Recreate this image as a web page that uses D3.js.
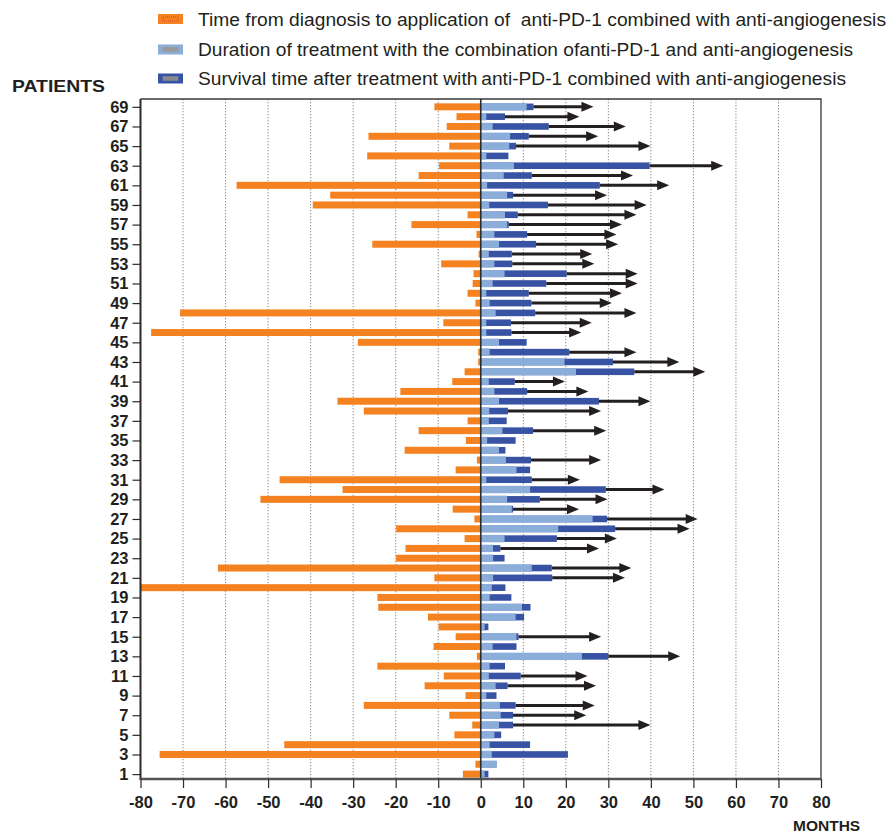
<!DOCTYPE html>
<html><head><meta charset="utf-8">
<script src="https://cdn.jsdelivr.net/npm/d3@7"></script>
<style>
html,body{margin:0;padding:0;background:#fff;}
svg{display:block;font-family:"Liberation Sans",Arial,Helvetica,sans-serif;}
</style></head>
<body>
<svg id="chart" width="889" height="835"></svg>
<script>
// Patient IDs (categories)
const patients = [1,2,3,4,5,6,7,8,9,10,11,12,13,14,15,16,17,18,19,20,21,22,23,24,25,26,27,28,29,30,31,32,33,34,35,36,37,38,39,40,41,42,43,44,45,46,47,48,49,50,51,52,53,54,55,56,57,58,59,60,61,62,63,64,65,66,67,68,69];
// Months from diagnosis to start of combined therapy (drawn to the left of 0)
const diagnosisToTreatment = [-4.2,-1.25,-75.5,-46.2,-6.2,-2.0,-7.4,-27.5,-3.6,-13.2,-8.7,-24.3,-0.9,-11.1,-5.9,-9.9,-12.4,-24.1,-24.3,-80,-10.9,-61.8,-19.9,-17.7,-3.8,-19.9,-1.5,-6.6,-51.8,-32.5,-47.3,-5.9,-0.9,-17.9,-3.5,-14.6,-3.1,-27.5,-33.7,-18.9,-6.7,-3.8,-0.6,-0.6,-28.9,-77.5,-8.8,-70.7,-1.25,-3.1,-1.9,-1.7,-9.3,-0.5,-25.5,-1.0,-16.3,-3.1,-39.5,-35.4,-57.4,-14.6,-9.8,-26.7,-7.4,-26.4,-8.0,-5.7,-10.9];
// Months of combined treatment
const treatmentDuration = [0.9,3.7,2.6,2.1,3.2,4.3,4.7,4.5,1.3,3.5,1.9,2.1,23.8,2.8,8.4,0.9,8.2,9.7,2.1,2.6,2.9,12.0,2.9,2.9,5.6,18.2,26.3,7.3,6.2,11.6,1.3,8.4,5.9,4.3,1.5,5.1,1.9,2.0,4.3,3.2,1.9,22.4,19.7,2.1,4.3,1.3,1.3,3.5,2.1,1.3,2.8,5.6,3.2,1.9,4.3,3.2,6.2,5.7,2.0,6.2,1.5,5.4,7.8,1.3,6.7,6.9,2.8,1.3,10.8];
// Months of survival after start of combined treatment
const survivalTime = [1.8,3.7,20.5,11.6,4.8,7.6,7.6,8.2,3.7,6.3,9.4,5.7,30.0,8.4,8.9,1.8,10.2,11.7,7.2,5.8,16.8,16.7,5.6,4.6,17.9,31.6,29.7,7.6,13.9,29.4,12.0,11.6,11.8,5.8,8.2,12.3,6.1,6.4,27.8,10.9,8.0,36.1,31.1,20.8,10.8,7.2,7.1,12.8,11.9,11.3,15.4,20.2,7.4,7.3,13.0,10.9,6.6,8.7,15.8,7.6,28.0,12.0,39.7,6.5,8.3,11.3,16.0,5.7,12.4];
// Arrow tip (ongoing follow-up), null = no arrow
const arrowEnd = [null,null,null,null,null,39.9,24.8,26.8,null,27.1,25.1,null,46.9,null,28.3,null,null,null,null,null,33.9,35.4,null,27.8,32.0,49.1,51.0,23.1,29.8,43.2,23.3,null,28.3,null,null,29.5,null,28.3,39.9,25.3,19.8,52.8,46.7,36.6,null,23.6,26.1,36.6,30.8,33.2,36.9,36.9,26.7,26.2,32.3,31.9,33.2,36.6,39.0,29.7,44.3,35.8,57.0,null,39.9,27.6,34.1,23.2,26.5];
// Axis ticks
const xTicks = [-80,-70,-60,-50,-40,-30,-20,-10,0,10,20,30,40,50,60,70,80];
const yTickLabels = [1,3,5,7,9,11,13,15,17,19,21,23,25,27,29,31,33,35,37,39,41,43,45,47,49,51,53,55,57,59,61,63,65,67,69];
// Legend
const legendLabels = [
  "Time from diagnosis to application of  anti-PD-1 combined with anti-angiogenesis",
  "Duration of treatment with the combination ofanti-PD-1 and anti-angiogenesis",
  "Survival time after treatment with\u2009anti-PD-1 combined with anti-angiogenesis"
];

const C = {orange:"#f58220", light:"#8badd9", dark:"#3953a4", ink:"#231f20"};

const svg = d3.select("#chart");
const L = 140.5, R = 821, T = 99, B = 779;
const x = d3.scaleLinear().domain([-80,80]).range([L,R]);
const y = d3.scaleLinear().domain([0.5,69.8]).range([B,T]);

const rows = patients.map((p,i)=>({p, pre:diagnosisToTreatment[i], tr:treatmentDuration[i], sv:survivalTime[i], ar:arrowEnd[i]}));

// gridlines
svg.append("g").selectAll("line").data(xTicks.filter(t=>t!==-80 && t!==80 && t!==0)).join("line")
  .attr("x1",d=>x(d)).attr("x2",d=>x(d)).attr("y1",T).attr("y2",B)
  .attr("stroke","#8a8a8a").attr("stroke-width",1).attr("stroke-dasharray","1.3,1.7");

// frame top/right
svg.append("path").attr("d",`M${L},${T}H${R}V${B}`).attr("fill","none").attr("stroke","#3a3a3a").attr("stroke-width",1.3);

const bh = 7;
const g = svg.append("g");
// orange
g.selectAll("rect.o").data(rows).join("rect").attr("class","o")
  .attr("x",d=>x(d.pre)).attr("width",d=>x(0)-x(d.pre))
  .attr("y",d=>y(d.p)-bh/2).attr("height",bh).attr("fill",C.orange);
// dark blue
g.selectAll("rect.d").data(rows).join("rect").attr("class","d")
  .attr("x",x(0)).attr("width",d=>x(d.sv)-x(0))
  .attr("y",d=>y(d.p)-3.3).attr("height",6.6).attr("fill",C.dark);
// light blue
g.selectAll("rect.l").data(rows).join("rect").attr("class","l")
  .attr("x",x(0)).attr("width",d=>x(d.tr)-x(0))
  .attr("y",d=>y(d.p)-3.7).attr("height",7.4).attr("fill",C.light);

// arrows
const ah = 12, aw = 5;
const arr = rows.filter(d=>d.ar!=null);
g.selectAll("line.a").data(arr).join("line").attr("class","a")
  .attr("x1",d=>x(d.sv)).attr("x2",d=>x(d.ar)-ah+1)
  .attr("y1",d=>y(d.p)).attr("y2",d=>y(d.p))
  .attr("stroke",C.ink).attr("stroke-width",3);
g.selectAll("path.h").data(arr).join("path").attr("class","h")
  .attr("d",d=>{const tx=x(d.ar), cy=y(d.p); return `M${tx},${cy}L${tx-ah},${cy-aw}L${tx-ah},${cy+aw}Z`;})
  .attr("fill",C.ink);

// zero line
svg.append("line").attr("x1",x(0)).attr("x2",x(0)).attr("y1",T).attr("y2",B)
  .attr("stroke","#2b2b2b").attr("stroke-width",1.6);

// left axis
const yAxis = d3.axisLeft(y).tickValues(yTickLabels).tickSize(8).tickPadding(4).tickSizeOuter(0);
const ya = svg.append("g").attr("transform",`translate(${L},0)`).call(yAxis);
ya.select(".domain").attr("stroke","#2b2b2b").attr("stroke-width",2).attr("d",`M0,${T}V${B}`);
ya.selectAll(".tick line").attr("stroke","#2b2b2b").attr("stroke-width",1.2);
ya.selectAll(".tick text").attr("font-size",16.5).attr("font-weight","bold").attr("fill",C.ink).attr("font-family","Liberation Sans, Arial, sans-serif");

// bottom axis
const xAxis = d3.axisBottom(x).tickValues(xTicks).tickFormat(d=>String(d)).tickSize(9).tickPadding(8).tickSizeOuter(0);
const xa = svg.append("g").attr("transform",`translate(0,${B})`).call(xAxis);
xa.select(".domain").attr("stroke","#555").attr("stroke-width",2.6).attr("d",`M${L-1},0H${R}`);
xa.selectAll(".tick line").attr("stroke","#2b2b2b").attr("stroke-width",1.2);
xa.selectAll(".tick text").attr("font-size",16.5).attr("font-weight","bold").attr("fill",C.ink).attr("font-family","Liberation Sans, Arial, sans-serif");

// axis titles
svg.append("text").attr("x",12).attr("y",92).attr("font-size",16.5).attr("font-weight","bold").attr("fill",C.ink)
  .attr("textLength",93).attr("lengthAdjust","spacingAndGlyphs").text("PATIENTS");
svg.append("text").attr("x",793).attr("y",830.5).attr("font-size",15.5).attr("font-weight","bold").attr("fill",C.ink).text("MONTHS");

// legend
const lg = svg.append("g");
const legendColors = [C.orange, C.light, C.dark];
const patternColors = ["#e8432a", "#9a9a9a", "#8f8f8f"];
const legendWidths = [688, 655, 648];
const ly = [19, 49.5, 78.5];
legendLabels.forEach((t,i)=>{
  lg.append("rect").attr("x",158).attr("y",ly[i]-5).attr("width",25).attr("height",10).attr("fill",legendColors[i]);
  lg.append("rect").attr("x",163).attr("y",ly[i]-2).attr("width",15).attr("height",4).attr("fill",i===0?"none":patternColors[i])
    .attr("stroke",patternColors[i]).attr("stroke-width",1).attr("stroke-dasharray",i===0?"1,1":(i===2?"1.5,1":null))
    .attr("opacity",i===2?0.9:1);
  lg.append("text").attr("x",198).attr("y",ly[i]+6.5).attr("font-size",17.5).attr("fill",C.ink)
    .style("white-space","pre").attr("xml:space","preserve")
    .attr("textLength",legendWidths[i]).attr("lengthAdjust","spacingAndGlyphs").text(t);
});
</script>
</body></html>
